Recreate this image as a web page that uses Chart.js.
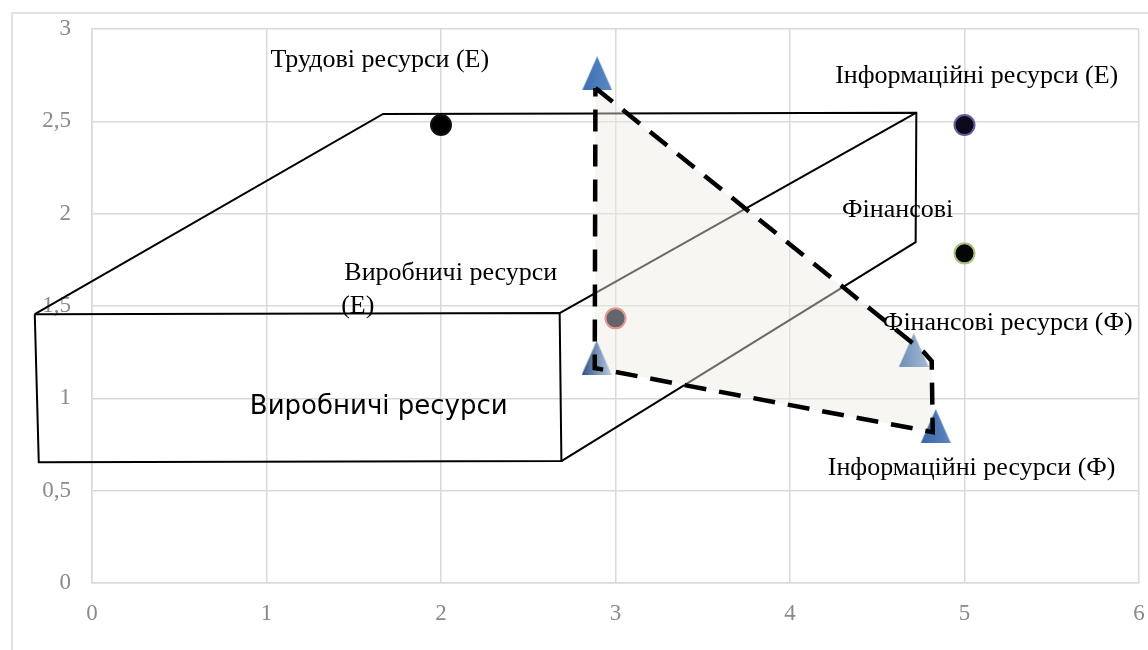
<!DOCTYPE html>
<html>
<head>
<meta charset="utf-8">
<script src="https://cdn.jsdelivr.net/npm/chart.js@4/dist/chart.umd.min.js"></script>
<style>
  html, body { margin: 0; padding: 0; background: #fff; }
</style>
</head>
<body>
<canvas id="c" width="1148" height="650"></canvas>
<script>
// axis ticks
var xTicks = [0, 1, 2, 3, 4, 5, 6];
var yTicks = [0, 0.5, 1, 1.5, 2, 2.5, 3];

// round markers (E)
var dotX = [2, 5, 5, 3];
var dotY = [2.48, 2.48, 1.785, 1.433];

// triangle markers (Ф)
var triX = [2.895, 2.892, 4.709, 4.835];
var triY = [2.76, 1.22, 1.261, 0.85];

// dashed area
var areaX = [2.885, 4.766, 4.812, 4.818, 2.881, 2.885];
var areaY = [2.681, 1.251, 1.202, 0.817, 1.164, 2.681];

// box "Виробничі ресурси"
var frontX = [-0.328, 2.68, 2.69, -0.305, -0.328];
var frontY = [1.456, 1.462, 0.66, 0.654, 1.456];
var backX = [-0.328, 1.668, 4.724, 4.72, 2.69];
var backY = [1.456, 2.54, 2.547, 1.846, 0.66];
var edgeX = [2.68, 4.724];
var edgeY = [1.462, 2.547];

// captions
var noteText = ["Трудові ресурси (Е)", "Інформаційні ресурси (Е)", "Фінансові",
  "Виробничі ресурси", "(Е)", "Фінансові ресурси (Ф)", "Інформаційні ресурси (Ф)"];
var noteX = [1.649, 5.07, 4.617, 2.056, 1.523, 5.248, 5.041];
var noteY = [2.833, 2.744, 2.02, 1.679, 1.5, 1.408, 0.622];
var boxText = "Виробничі ресурси";
var boxTextX = 1.643, boxTextY = 0.952;

function pts(xs, ys) {
  return xs.map(function (x, i) { return { x: x, y: ys[i] }; });
}

function tri(c1, c2) {
  var cv = document.createElement("canvas");
  cv.width = 30; cv.height = 34;
  var g = cv.getContext("2d");
  var gr = g.createLinearGradient(0, 0, 30, 0);
  gr.addColorStop(0, c1);
  gr.addColorStop(1, c2);
  g.fillStyle = gr;
  g.beginPath();
  g.moveTo(15, 0);
  g.lineTo(30, 34);
  g.lineTo(0, 34);
  g.closePath();
  g.fill();
  return cv;
}
var triStyles = [
  tri("#3f6eae", "#5a8ac8"),
  tri("#2f5283", "#b9cde2"),
  tri("#6f8fb7", "#a3bad6"),
  tri("#3b64a3", "#5d86c2")
];

function boxLine(data) {
  return {
    data: data, showLine: true, pointRadius: 0, borderColor: "#000",
    borderWidth: 2, fill: false, clip: false, order: 10
  };
}

var frame = {
  id: "frame",
  beforeDraw: function (chart) {
    var ctx = chart.ctx;
    ctx.save();
    ctx.strokeStyle = "#d9d9d9";
    ctx.lineWidth = 1.5;
    ctx.strokeRect(12, 13, 1160, 700);
    ctx.restore();
  }
};

var notes = {
  id: "notes",
  afterDatasetsDraw: function (chart) {
    var ctx = chart.ctx, sx = chart.scales.x, sy = chart.scales.y;
    ctx.save();
    ctx.fillStyle = "#000";
    ctx.textAlign = "center";
    ctx.textBaseline = "middle";
    ctx.font = "26px 'Liberation Serif'";
    noteText.forEach(function (t, i) {
      ctx.fillText(t, sx.getPixelForValue(noteX[i]), sy.getPixelForValue(noteY[i]));
    });
    ctx.font = "26px 'DejaVu Sans'";
    ctx.fillText(boxText, sx.getPixelForValue(boxTextX), sy.getPixelForValue(boxTextY));
    ctx.restore();
  }
};

new Chart(document.getElementById("c"), {
  type: "scatter",
  data: {
    datasets: [
      boxLine(pts(frontX, frontY)),
      boxLine(pts(backX, backY)),
      boxLine(pts(edgeX, edgeY)),
      {
        data: pts(areaX, areaY), showLine: true, pointRadius: 0, borderWidth: 0,
        borderColor: "rgba(0,0,0,0)", backgroundColor: "rgba(240,234,226,0.45)",
        fill: "shape", order: 8
      },
      {
        data: pts(dotX, dotY), pointRadius: 10, pointBorderWidth: 2,
        pointBackgroundColor: ["#000000", "#0c0a1c", "#050505", "#62666c"],
        pointBorderColor: ["#111111", "#6a5a9a", "#a9c27a", "#e4988e"],
        order: 6
      },
      {
        data: pts(triX, triY), pointStyle: triStyles, pointRadius: 15, order: 4
      },
      {
        data: pts(areaX, areaY), showLine: true, pointRadius: 0, borderColor: "#000",
        borderWidth: 4.5, borderDash: [22, 13], fill: false, clip: false, order: 2
      }
    ]
  },
  options: {
    responsive: false,
    animation: false,
    events: [],
    layout: { autoPadding: false, padding: { left: 0, right: 9, top: 29, bottom: 0 } },
    plugins: { legend: { display: false }, tooltip: { enabled: false } },
    scales: {
      x: {
        type: "linear", min: 0, max: 6,
        afterBuildTicks: function (s) { s.ticks = xTicks.map(function (v) { return { value: v }; }); },
        afterFit: function (s) { s.height = 67; s.paddingLeft = 0; s.paddingRight = 0; },
        grid: { color: "#d9d9d9", lineWidth: 1.5, drawTicks: false },
        border: { color: "#d9d9d9", width: 1.5 },
        ticks: { padding: 17, color: "#8a8a8a", font: { family: "'Liberation Serif'", size: 23 } }
      },
      y: {
        type: "linear", min: 0, max: 3,
        afterBuildTicks: function (s) { s.ticks = yTicks.map(function (v) { return { value: v }; }); },
        afterFit: function (s) { s.width = 92; s.paddingTop = 0; s.paddingBottom = 0; },
        grid: { color: "#d9d9d9", lineWidth: 1.5, drawTicks: false },
        border: { color: "#d9d9d9", width: 1.5 },
        ticks: {
          padding: 21, color: "#8a8a8a", font: { family: "'Liberation Serif'", size: 23 },
          callback: function (v) { return String(v).replace(".", ","); }
        }
      }
    }
  },
  plugins: [frame, notes]
});
</script>
</body>
</html>
